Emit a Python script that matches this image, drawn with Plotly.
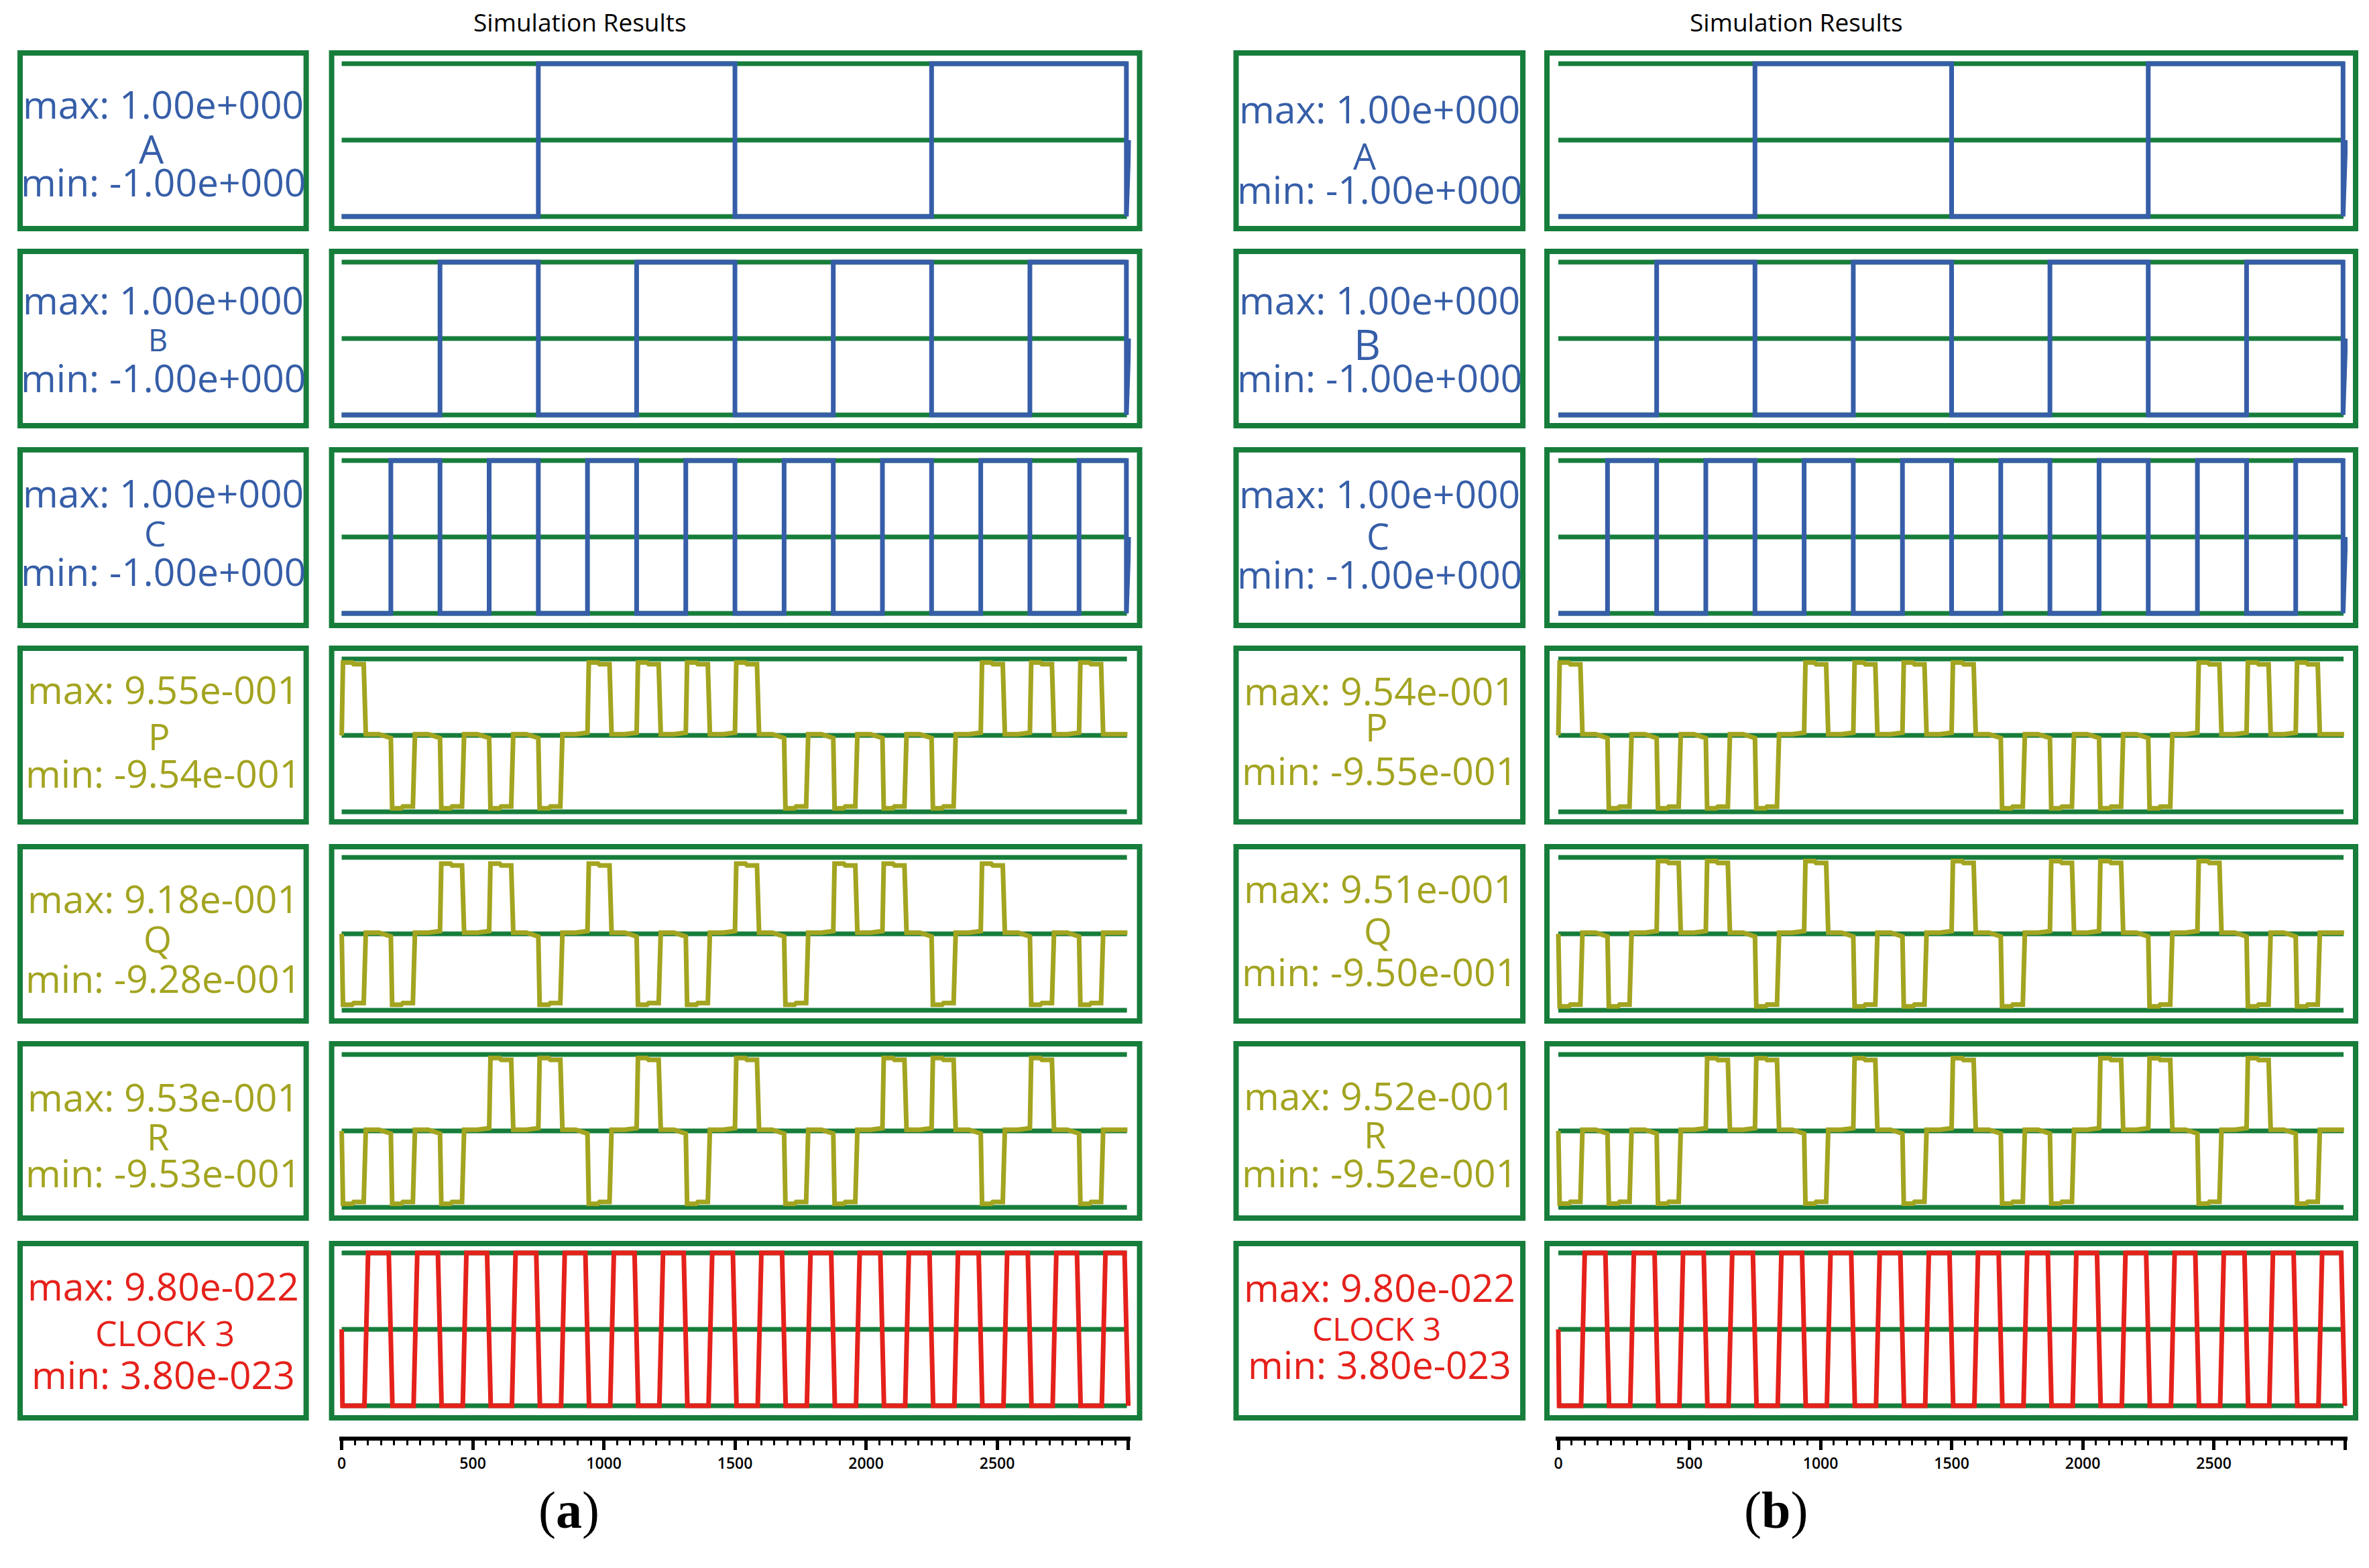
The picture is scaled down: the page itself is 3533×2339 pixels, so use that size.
import plotly.graph_objects as go

W, H = 3533, 2339
PAGE_MARGIN = 8  # browser body margin

# ---------------- data ----------------
T_END = 3000
SLOT_STARTS = [0, 187.5, 375, 562.5, 750, 937.5, 1125, 1312.5,
               1500, 1687.5, 1875, 2062.5, 2250, 2437.5, 2625, 2812.5]
CLOCK_RISES = [93.75, 281.25, 468.75, 656.25, 843.75, 1031.25, 1218.75, 1406.25,
               1593.75, 1781.25, 1968.75, 2156.25, 2343.75, 2531.25, 2718.75, 2906.25]
CLOCK_FALLS = [186.5, 374, 561.5, 749, 936.5, 1124, 1311.5, 1499,
               1686.5, 1874, 2061.5, 2249, 2436.5, 2624, 2811.5, 2993]

A_HIGH = [(750, 1500), (2250, 2993)]
B_HIGH = [(375, 750), (1125, 1500), (1875, 2250), (2625, 2993)]
C_HIGH = [(187.5, 375), (562.5, 750), (937.5, 1125), (1312.5, 1500),
          (1687.5, 1875), (2062.5, 2250), (2437.5, 2625), (2812.5, 2993)]

P_SIGNS = [1, -1, -1, -1, -1, 1, 1, 1, 1, -1, -1, -1, -1, 1, 1, 1]
Q_SIGNS = [-1, -1, 1, 1, -1, 1, -1, -1, 1, -1, 1, 1, -1, 1, -1, -1]
R_SIGNS = [-1, -1, -1, 1, 1, -1, 1, -1, 1, -1, -1, 1, 1, -1, 1, -1]

NAMES = ["A", "B", "C", "P", "Q", "R", "CLOCK 3"]
MAX_A = [1.00, 1.00, 1.00, 0.955, 0.918, 0.953, 9.80e-22]
MIN_A = [-1.00, -1.00, -1.00, -0.954, -0.928, -0.953, 3.80e-23]
MAX_B = [1.00, 1.00, 1.00, 0.954, 0.951, 0.952, 9.80e-22]
MIN_B = [-1.00, -1.00, -1.00, -0.955, -0.950, -0.952, 3.80e-23]

TICK_VALS = [0, 500, 1000, 1500, 2000, 2500, 3000]
TICK_TEXT = ["0", "500", "1000", "1500", "2000", "2500", ""]
MID_TICKS = [250, 750, 1250, 1750, 2250, 2750]

# ---------------- style ----------------
GREEN = "#167d3b"
BLUE = "#365ea8"
OLIVE = "#a3a420"
RED = "#e5211b"
COLORS = [BLUE, BLUE, BLUE, OLIVE, OLIVE, OLIVE, RED]
FONT = "Open Sans, Noto Sans, DejaVu Sans"

ROW_TOPS = [75, 371, 667, 963, 1259, 1553, 1851]
ROW_H = [270, 268, 270, 267, 268, 268, 268]
HALVES = [
    dict(lbox=(27, 454), wbox=(492, 1698), x0=507, x1=1681, title_x=863, sub_x=846, sub="a",
         maxv=MAX_A, minv=MIN_A,
         name_size=[59, 45, 52, 54, 54, 54, 52],
         name_dx=[-17, -8, -12, -6, -8, -8, 3],
         rel=[(80, 146, 196), (76, 135, 192), (68, 127, 185), (65, 135, 190),
              (81, 141, 200), (83, 142, 196), (67, 136, 199)]),
    dict(lbox=(1842, 2270), wbox=(2306, 3513), x0=2323, x1=3497, title_x=2678, sub_x=2648, sub="b",
         maxv=MAX_B, minv=MIN_B,
         name_size=[54, 62, 54, 56, 54, 54, 48],
         name_dx=[-22, -18, -2, -4, -2, -7, -4],
         rel=[(87, 157, 207), (76, 142, 192), (69, 132, 189), (67, 121, 186),
              (66, 129, 190), (81, 139, 196), (69, 130, 184)]),
]


def fmt(v):
    m, e = f"{v:.2e}".split("e")
    return f"{m}e{e[0]}{int(e[1:]):03d}"


def square_wave(highs):
    xs, ys = [0.0], [-1.0]
    for a, b in highs:
        xs += [a, a, b, b]
        ys += [-1, 1, 1, -1]
    xs += [3003]
    ys += [0]
    return xs, ys


def pulse_wave(signs, hi, lo):
    xs, ys = [0.0], [0.0]
    for k, (s, sg) in enumerate(zip(SLOT_STARTS, signs)):
        v = hi if sg > 0 else lo
        if k > 0:
            xs += [s - 45, s]
            ys += [0.015, 0.035 * sg]
        xs += [s + 5, s + 40, s + 46, s + 84, s + 92]
        ys += [v, v, v * 0.975, v * 0.975, 0.015]
    xs.append(2997)
    ys.append(0.015)
    return xs, ys


def clock_wave(lo, hi):
    mid = (lo + hi) / 2
    xs, ys = [0.0, 3.0], [mid, lo]
    for r, f in zip(CLOCK_RISES, CLOCK_FALLS):
        xs += [r - 7, r + 7, f - 7, f + 7]
        ys += [lo, hi, hi, lo]
    return xs, ys


FW, FH = W - 2 * PAGE_MARGIN, H - 2 * PAGE_MARGIN


def px(x):
    return (x - PAGE_MARGIN) / FW


def py(y):
    return 1 - (y - PAGE_MARGIN) / FH


fig = go.Figure()
layout = dict(width=FW, height=FH, margin=dict(l=0, r=0, t=0, b=0),
              paper_bgcolor="white", plot_bgcolor="white", showlegend=False)
shapes, annotations = [], []

idx = 0
for h, half in enumerate(HALVES):
    scale = (half["x1"] - half["x0"]) / T_END
    xdom = [px(half["x0"] - 10 * scale), px(half["x1"] + 10 * scale)]
    for r in range(7):
        idx += 1
        top = ROW_TOPS[r]
        bot = top + ROW_H[r]
        c = top + (132 if r == 6 else 134)
        half_px = 114 * 1.15
        ax = "" if idx == 1 else str(idx)
        layout["xaxis" + ax] = dict(domain=xdom, range=[-10, T_END + 10], visible=False,
                                    anchor="y" + ax, fixedrange=True)
        if r < 6:
            lo_line, hi_line = -1.0, 1.0
        else:
            lo_line, hi_line = half["minv"][6], half["maxv"][6]
        mid_line = (lo_line + hi_line) / 2
        span = (hi_line - lo_line) / 2 * 1.15
        layout["yaxis" + ax] = dict(domain=[py(c + half_px), py(c - half_px)],
                                    range=[mid_line - span, mid_line + span],
                                    visible=False, anchor="x" + ax, fixedrange=True)
        for lv in (lo_line, mid_line, hi_line):
            shapes.append(dict(type="line", xref="x" + ax, yref="y" + ax, x0=0, x1=2995,
                               y0=lv, y1=lv, line=dict(color=GREEN, width=7), layer="below"))
        if r == 0:
            xs, ys = square_wave(A_HIGH)
        elif r == 1:
            xs, ys = square_wave(B_HIGH)
        elif r == 2:
            xs, ys = square_wave(C_HIGH)
        elif r == 3:
            xs, ys = pulse_wave(P_SIGNS, half["maxv"][3], half["minv"][3])
        elif r == 4:
            xs, ys = pulse_wave(Q_SIGNS, half["maxv"][4], half["minv"][4])
        elif r == 5:
            xs, ys = pulse_wave(R_SIGNS, half["maxv"][5], half["minv"][5])
        else:
            xs, ys = clock_wave(half["minv"][6], half["maxv"][6])
        fig.add_trace(go.Scatter(x=xs, y=ys, mode="lines", xaxis="x" + ax, yaxis="y" + ax,
                                 line=dict(color=COLORS[r], width=7), hoverinfo="skip"))
        for bx in (half["lbox"], half["wbox"]):
            shapes.append(dict(type="rect", xref="paper", yref="paper",
                               x0=px(bx[0]), x1=px(bx[1]), y0=py(top + 4), y1=py(bot - 4),
                               line=dict(color=GREEN, width=8), layer="above"))
        lx = (half["lbox"][0] + half["lbox"][1]) / 2
        rm, rn, rmin = half["rel"][r]
        texts = [("max: " + fmt(half["maxv"][r]), rm, 57, 0),
                 (NAMES[r], rn, half["name_size"][r], half["name_dx"][r]),
                 ("min: " + fmt(half["minv"][r]), rmin, 57, 0)]
        for t, rel, fs, dx in texts:
            annotations.append(dict(text=t, x=px(lx + dx), y=py(top + rel), xref="paper",
                                    yref="paper", showarrow=False, xanchor="center",
                                    yanchor="middle",
                                    font=dict(family=FONT, size=fs, color=COLORS[r],
                                              weight=500)))
    for k, (ticks_vals, tlen, twid) in enumerate([(TICK_VALS, 14, 5), (MID_TICKS, 10, 3)]):
        n = 15 + h + 2 * k
        ax = str(n)
        yax = str(15 + h)
        xa = dict(domain=xdom, range=[-10, T_END + 10], anchor="y" + yax, side="bottom",
                  ticks="outside", ticklen=tlen, tickwidth=twid, tickcolor="black",
                  tickmode="array", tickvals=ticks_vals, showgrid=False, zeroline=False,
                  fixedrange=True)
        if k == 0:
            xa.update(ticktext=TICK_TEXT, showline=True, linewidth=6, linecolor="black",
                      tickfont=dict(family=FONT, size=23, color="black", weight=600),
                      minor=dict(ticks="outside", ticklen=7, tickwidth=3, tickcolor="black",
                                 dtick=50, tick0=0, showgrid=False))
        else:
            xa.update(showticklabels=False, showline=False, overlaying="x" + yax)
        layout["xaxis" + ax] = xa
        if k == 0:
            layout["yaxis" + yax] = dict(domain=[py(2143), py(2125)], range=[0, 1],
                                         visible=False, anchor="x" + ax, fixedrange=True)
        fig.add_trace(go.Scatter(x=[None], y=[None], xaxis="x" + ax, yaxis="y" + yax,
                                 mode="lines", hoverinfo="skip"))
    annotations.append(dict(text="Simulation Results", x=px(half["title_x"]), y=py(32),
                            xref="paper", yref="paper", showarrow=False, xanchor="center",
                            yanchor="middle",
                            font=dict(family=FONT, size=37, color="black", weight=500)))
    annotations.append(dict(text="(<b>" + half["sub"] + "</b>)", x=px(half["sub_x"]), y=py(2252),
                            xref="paper", yref="paper", showarrow=False, xanchor="center",
                            yanchor="middle",
                            font=dict(family="Liberation Serif, DejaVu Serif", size=78,
                                      color="black")))

layout["shapes"] = shapes
layout["annotations"] = annotations
fig.update_layout(**layout)
fig.write_html("out.html")
